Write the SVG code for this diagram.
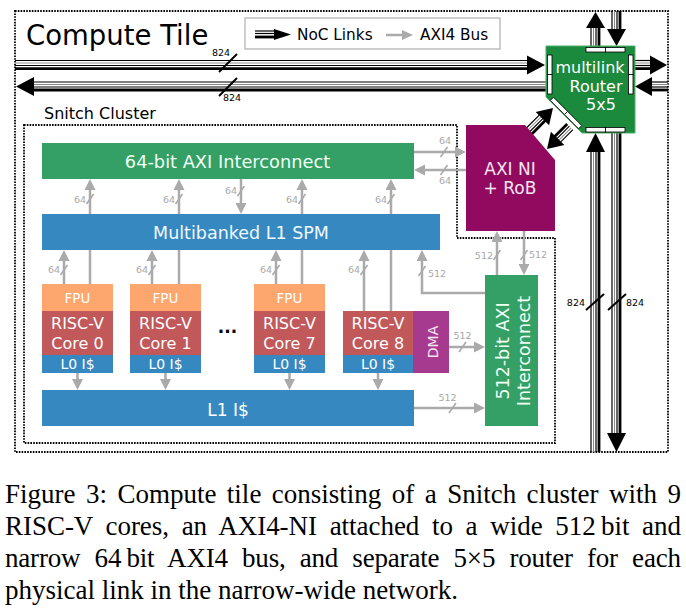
<svg xmlns="http://www.w3.org/2000/svg" width="686" height="612" viewBox="0 0 686 612">
<style>
.t{font-family:"DejaVu Sans",Verdana,sans-serif}
.w{fill:#ffffff}
.g{stroke:#aaaaaa;stroke-width:2.5;fill:none}
.gh{fill:#aaaaaa}
.sl{stroke:#aaaaaa;stroke-width:1.6}
.lb{font-family:"DejaVu Sans",Verdana,sans-serif;font-size:9.5px;fill:#a8a8a8}
.lk{font-family:"DejaVu Sans",Verdana,sans-serif;font-size:9.5px;fill:#000}
.k1{stroke:#000;stroke-width:1.2}
.kg{stroke:#888;stroke-width:1}
.k3{stroke:#000;stroke-width:2.8}
.kh{fill:#000}
.ks{stroke:#000;stroke-width:2}
.port{fill:#fff;stroke:#000;stroke-width:0.8}
.dot{fill:none;stroke:#000;stroke-width:1.8;stroke-dasharray:1.6 1.2}
.cap{font-family:"Liberation Serif","Times New Roman",serif;font-size:27px;fill:#000}
</style>
<rect x="0" y="0" width="686" height="612" fill="#fff"/>

<g id="tile-border"><rect class="dot" x="15" y="11" width="653" height="441"/></g>
<g id="cluster-border"><polygon class="dot" points="24,125 457,125 457,238 555,238 555,443 24,443"/></g>
<text class="t" x="26" y="45" font-size="27.5">Compute Tile</text>
<text class="t" x="44" y="119" font-size="16">Snitch Cluster</text>

<g id="legend">
<rect x="245" y="18" width="255" height="31" fill="#fff" stroke="#b0b0b0" stroke-width="1.2"/>
<line class="k1" x1="255" y1="31" x2="275" y2="31"/>
<line class="k1" x1="255" y1="33.5" x2="275" y2="33.5"/>
<line class="k3" x1="255" y1="37" x2="275" y2="37"/>
<polygon class="kh" points="291,34.5 274,29 274,40"/>
<text class="t" x="297" y="40" font-size="15.3">NoC Links</text>
<line class="g" x1="386" y1="35" x2="403" y2="35"/>
<polygon class="gh" points="413,35 402,30 402,40"/>
<text class="t" x="420" y="40" font-size="15.3">AXI4 Bus</text>
</g>

<g id="connectors">
<g id="noc-west-out">
<line class="k1" x1="15" y1="60.5" x2="528" y2="60.5"/>
<line class="kg" x1="15" y1="63" x2="528" y2="63"/>
<line class="k1" x1="15" y1="65.5" x2="528" y2="65.5"/>
<line class="k3" x1="15" y1="68.6" x2="528" y2="68.6"/>
<polygon class="kh" points="545,65 527,55.5 527,74.5"/>
<line class="ks" x1="219" y1="72" x2="237" y2="54"/>
<text class="lk" x="212" y="56">824</text>
</g>
<g id="noc-west-in">
<line class="k1" x1="33" y1="82" x2="546" y2="82"/>
<line class="kg" x1="33" y1="84.5" x2="546" y2="84.5"/>
<line class="k1" x1="33" y1="87" x2="546" y2="87"/>
<line class="k3" x1="33" y1="90" x2="546" y2="90"/>
<polygon class="kh" points="16,86.5 34,77 34,96"/>
<line class="ks" x1="219" y1="96" x2="237" y2="78"/>
<text class="lk" x="223" y="101">824</text>
</g>
<g id="noc-east-out">
<line class="k1" x1="635" y1="60.5" x2="651" y2="60.5"/>
<line class="kg" x1="635" y1="63" x2="651" y2="63"/>
<line class="k1" x1="635" y1="65.5" x2="651" y2="65.5"/>
<line class="k3" x1="635" y1="68.6" x2="651" y2="68.6"/>
<polygon class="kh" points="667,65 650,55.5 650,74.5"/>
</g>
<g id="noc-east-in">
<line class="k1" x1="651" y1="82" x2="668" y2="82"/>
<line class="kg" x1="651" y1="84.5" x2="668" y2="84.5"/>
<line class="k1" x1="651" y1="87" x2="668" y2="87"/>
<line class="k3" x1="651" y1="90" x2="668" y2="90"/>
<polygon class="kh" points="635,86.5 652,77 652,96"/>
</g>
<g id="noc-north-out">
<line class="k1" x1="591" y1="46" x2="591" y2="27"/>
<line class="kg" x1="593.5" y1="46" x2="593.5" y2="27"/>
<line class="k1" x1="596" y1="46" x2="596" y2="27"/>
<line class="k3" x1="599" y1="46" x2="599" y2="27"/>
<polygon class="kh" points="595.5,12 586,28 605,28"/>
</g>
<g id="noc-north-in">
<line class="k1" x1="612" y1="11" x2="612" y2="30"/>
<line class="kg" x1="614.5" y1="11" x2="614.5" y2="30"/>
<line class="k1" x1="617" y1="11" x2="617" y2="30"/>
<line class="k3" x1="620" y1="11" x2="620" y2="30"/>
<polygon class="kh" points="616.5,46 607,29 626,29"/>
</g>
<g id="noc-south-in">
<line class="k1" x1="591" y1="452" x2="591" y2="151"/>
<line class="kg" x1="593.5" y1="452" x2="593.5" y2="151"/>
<line class="k1" x1="596" y1="452" x2="596" y2="151"/>
<line class="k3" x1="599" y1="452" x2="599" y2="151"/>
<polygon class="kh" points="595.5,133 586,152 605,152"/>
<line class="ks" x1="586" y1="310" x2="604" y2="294"/>
<text class="lk" x="585" y="306" text-anchor="end">824</text>
</g>
<g id="noc-south-out">
<line class="k1" x1="612" y1="133" x2="612" y2="434"/>
<line class="kg" x1="614.5" y1="133" x2="614.5" y2="434"/>
<line class="k1" x1="617" y1="133" x2="617" y2="434"/>
<line class="k3" x1="620" y1="133" x2="620" y2="434"/>
<polygon class="kh" points="616.5,452 607,433 626,433"/>
<line class="ks" x1="608" y1="310" x2="626" y2="294"/>
<text class="lk" x="626" y="306">824</text>
</g>
<g id="noc-ni-out" transform="translate(553,108) rotate(-45)">
<line class="k1" x1="-34" y1="-4.7" x2="-14" y2="-4.7"/>
<line class="kg" x1="-34" y1="-2.2" x2="-14" y2="-2.2"/>
<line class="k1" x1="-34" y1="0.3" x2="-14" y2="0.3"/>
<line class="k3" x1="-34" y1="3.4" x2="-14" y2="3.4"/>
<polygon class="kh" points="0,0 -15,-9.5 -15,9.5"/>
</g>
<g id="noc-ni-in" transform="translate(547,149) rotate(135)">
<line class="k1" x1="-32" y1="-4.7" x2="-14" y2="-4.7"/>
<line class="kg" x1="-32" y1="-2.2" x2="-14" y2="-2.2"/>
<line class="k1" x1="-32" y1="0.3" x2="-14" y2="0.3"/>
<line class="k3" x1="-32" y1="3.4" x2="-14" y2="3.4"/>
<polygon class="kh" points="0,0 -15,-9.5 -15,9.5"/>
</g>

<line class="g" x1="90" y1="284" x2="90" y2="189"/><polygon class="gh" points="90,179 84.5,190 95.5,190"/>
<line class="sl" x1="86.5" y1="204" x2="93.5" y2="194"/><text class="lb" x="86" y="203" text-anchor="end">64</text>
<line class="g" x1="179" y1="284" x2="179" y2="189"/><polygon class="gh" points="179,179 173.5,190 184.5,190"/>
<line class="sl" x1="175.5" y1="204" x2="182.5" y2="194"/><text class="lb" x="175" y="203" text-anchor="end">64</text>
<line class="g" x1="241" y1="179" x2="241" y2="204"/><polygon class="gh" points="241,214 235.5,203 246.5,203"/>
<line class="sl" x1="237.5" y1="196" x2="244.5" y2="186"/><text class="lb" x="237" y="194" text-anchor="end">64</text>
<line class="g" x1="302" y1="284" x2="302" y2="189"/><polygon class="gh" points="302,179 296.5,190 307.5,190"/>
<line class="sl" x1="298.5" y1="204" x2="305.5" y2="194"/><text class="lb" x="298" y="203" text-anchor="end">64</text>
<line class="g" x1="391" y1="311" x2="391" y2="189"/><polygon class="gh" points="391,179 385.5,190 396.5,190"/>
<line class="sl" x1="387.5" y1="204" x2="394.5" y2="194"/><text class="lb" x="387" y="203" text-anchor="end">64</text>

<line class="g" x1="64" y1="284" x2="64" y2="260"/><polygon class="gh" points="64,250 58.5,261 69.5,261"/>
<line class="sl" x1="60.5" y1="275" x2="67.5" y2="265"/><text class="lb" x="60" y="273" text-anchor="end">64</text>
<line class="g" x1="152" y1="284" x2="152" y2="260"/><polygon class="gh" points="152,250 146.5,261 157.5,261"/>
<line class="sl" x1="148.5" y1="275" x2="155.5" y2="265"/><text class="lb" x="148" y="273" text-anchor="end">64</text>
<line class="g" x1="276" y1="284" x2="276" y2="260"/><polygon class="gh" points="276,250 270.5,261 281.5,261"/>
<line class="sl" x1="272.5" y1="275" x2="279.5" y2="265"/><text class="lb" x="272" y="273" text-anchor="end">64</text>
<line class="g" x1="364" y1="311" x2="364" y2="260"/><polygon class="gh" points="364,250 358.5,261 369.5,261"/>
<line class="sl" x1="360.5" y1="275" x2="367.5" y2="265"/><text class="lb" x="360" y="273" text-anchor="end">64</text>

<polyline class="g" points="486,293 422,293 422,260"/><polygon class="gh" points="422,250 416.5,261 427.5,261"/>
<line class="sl" x1="418.5" y1="276" x2="425.5" y2="266"/><text class="lb" x="428" y="277">512</text>

<line class="g" x1="414" y1="152" x2="456" y2="152"/><polygon class="gh" points="466,152 455,146.5 455,157.5"/>
<line class="sl" x1="440.5" y1="157" x2="447.5" y2="147"/><text class="lb" x="445" y="144" text-anchor="middle">64</text>
<line class="g" x1="466" y1="170" x2="424" y2="170"/><polygon class="gh" points="414,170 425,164.5 425,175.5"/>
<line class="sl" x1="440.5" y1="175" x2="447.5" y2="165"/><text class="lb" x="445" y="184" text-anchor="middle">64</text>

<line class="g" x1="497" y1="275" x2="497" y2="242"/><polygon class="gh" points="497,231 491.5,242 502.5,242"/>
<line class="sl" x1="493.5" y1="260" x2="500.5" y2="250"/><text class="lb" x="493" y="259" text-anchor="end">512</text>
<line class="g" x1="524" y1="231" x2="524" y2="265"/><polygon class="gh" points="524,275 518.5,264 529.5,264"/>
<line class="sl" x1="520.5" y1="260" x2="527.5" y2="250"/><text class="lb" x="529" y="258">512</text>

<line class="g" x1="449" y1="347" x2="475" y2="347"/><polygon class="gh" points="485,347 474,341.5 474,352.5"/>
<line class="sl" x1="459" y1="352" x2="466" y2="342"/><text class="lb" x="462.5" y="339" text-anchor="middle">512</text>
<line class="g" x1="414" y1="408" x2="475" y2="408"/><polygon class="gh" points="485,408 474,402.5 474,413.5"/>
<line class="sl" x1="449" y1="413" x2="456" y2="403"/><text class="lb" x="447.5" y="401" text-anchor="middle">512</text>

<line class="g" x1="77.5" y1="373" x2="77.5" y2="380"/><polygon class="gh" points="77.5,390 72,379 83,379"/>
<line class="g" x1="165.5" y1="373" x2="165.5" y2="380"/><polygon class="gh" points="165.5,390 160,379 171,379"/>
<line class="g" x1="289.5" y1="373" x2="289.5" y2="380"/><polygon class="gh" points="289.5,390 284,379 295,379"/>
<line class="g" x1="378" y1="373" x2="378" y2="380"/><polygon class="gh" points="378,390 372.5,379 383.5,379"/>
</g>

<g id="router">
<polygon points="546,46 635,46 635,133 582,133 546,97" fill="#1b8a3c" stroke="#4fae66" stroke-width="1"/>
<rect class="port" x="586" y="47.5" width="19.5" height="4.5"/><rect class="port" x="605.5" y="47.5" width="19.5" height="4.5"/>
<rect class="port" x="586" y="127.5" width="19.5" height="4.5"/><rect class="port" x="605.5" y="127.5" width="19.5" height="4.5"/>
<rect class="port" x="547.5" y="55" width="4.5" height="19.5"/><rect class="port" x="547.5" y="74.5" width="4.5" height="19.5"/>
<rect class="port" x="628.5" y="55" width="4.5" height="19.5"/><rect class="port" x="628.5" y="74.5" width="4.5" height="19.5"/>
<g transform="translate(566,113) rotate(45)"><rect class="port" x="-20" y="-2.25" width="20" height="4.5"/><rect class="port" x="0" y="-2.25" width="20" height="4.5"/></g>
<text class="t w" x="590" y="73" font-size="16" text-anchor="middle">multilink</text>
<text class="t w" x="596" y="91.5" font-size="16" text-anchor="middle">Router</text>
<text class="t w" x="601" y="110" font-size="16" text-anchor="middle">5x5</text>
</g>

<g id="axi-ni">
<polygon points="466,125 525,125 555,160 555,231 466,231" fill="#910a60"/>
<text class="t" x="510" y="175" font-size="17" fill="#f3e6f0" text-anchor="middle">AXI NI</text>
<text class="t" x="510" y="194" font-size="17" fill="#f3e6f0" text-anchor="middle">+ RoB</text>
</g>

<g id="axi64">
<rect x="42" y="143" width="372" height="36" fill="#34a065"/>
<text class="t" x="227.5" y="168" font-size="17.8" fill="#f0fff4" text-anchor="middle">64-bit AXI Interconnect</text>
</g>

<g id="spm">
<rect x="42" y="214" width="398" height="36" fill="#3689c0"/>
<text class="t" x="241" y="239" font-size="17.5" fill="#f0f8ff" text-anchor="middle">Multibanked L1 SPM</text>
</g>

<g id="core0">
<rect x="42" y="284" width="71" height="27" fill="#fda66e"/>
<rect x="42" y="311" width="71" height="44" fill="#c1585a"/>
<rect x="42" y="355" width="71" height="18" fill="#3689c0"/>
<text class="t w" x="77.5" y="303" font-size="13.5" text-anchor="middle">FPU</text>
<text class="t w" x="77.5" y="329" font-size="16" text-anchor="middle">RISC-V</text>
<text class="t w" x="77.5" y="349" font-size="16" text-anchor="middle">Core 0</text>
<text class="t w" x="77.5" y="369" font-size="14" text-anchor="middle">L0 I$</text>
</g>
<g id="core1">
<rect x="130" y="284" width="71" height="27" fill="#fda66e"/>
<rect x="130" y="311" width="71" height="44" fill="#c1585a"/>
<rect x="130" y="355" width="71" height="18" fill="#3689c0"/>
<text class="t w" x="165.5" y="303" font-size="13.5" text-anchor="middle">FPU</text>
<text class="t w" x="165.5" y="329" font-size="16" text-anchor="middle">RISC-V</text>
<text class="t w" x="165.5" y="349" font-size="16" text-anchor="middle">Core 1</text>
<text class="t w" x="165.5" y="369" font-size="14" text-anchor="middle">L0 I$</text>
</g>
<text class="t" x="227.5" y="333" font-size="17" font-weight="bold" text-anchor="middle">...</text>
<g id="core7">
<rect x="254" y="284" width="71" height="27" fill="#fda66e"/>
<rect x="254" y="311" width="71" height="44" fill="#c1585a"/>
<rect x="254" y="355" width="71" height="18" fill="#3689c0"/>
<text class="t w" x="289.5" y="303" font-size="13.5" text-anchor="middle">FPU</text>
<text class="t w" x="289.5" y="329" font-size="16" text-anchor="middle">RISC-V</text>
<text class="t w" x="289.5" y="349" font-size="16" text-anchor="middle">Core 7</text>
<text class="t w" x="289.5" y="369" font-size="14" text-anchor="middle">L0 I$</text>
</g>
<g id="core8">
<rect x="343" y="311" width="70" height="44" fill="#c1585a"/>
<rect x="343" y="355" width="70" height="18" fill="#3689c0"/>
<text class="t w" x="378" y="329" font-size="16" text-anchor="middle">RISC-V</text>
<text class="t w" x="378" y="349" font-size="16" text-anchor="middle">Core 8</text>
<text class="t w" x="378" y="369" font-size="14" text-anchor="middle">L0 I$</text>
</g>
<g id="dma">
<rect x="413" y="311" width="36" height="62" fill="#a63a8e"/>
<text class="t" transform="translate(437.5,342) rotate(-90)" font-size="14" fill="#f6e4f2" text-anchor="middle">DMA</text>
</g>

<g id="l1icache">
<rect x="42" y="390" width="372" height="36" fill="#3689c0"/>
<text class="t w" x="228" y="415.5" font-size="17" text-anchor="middle">L1 I$</text>
</g>

<g id="axi512">
<rect x="485" y="275" width="53" height="151" fill="#34a065"/>
<text class="t" transform="translate(508.5,351) rotate(-90)" font-size="17.5" fill="#f0fff4" text-anchor="middle">512-bit AXI</text>
<text class="t" transform="translate(530,351) rotate(-90)" font-size="17.5" fill="#f0fff4" text-anchor="middle">Interconnect</text>
</g>

<g id="caption">
<text class="cap" x="5" y="503" word-spacing="3.7" textLength="676" lengthAdjust="spacing">Figure 3: Compute tile consisting of a Snitch cluster with 9</text>
<text class="cap" x="5" y="535" word-spacing="6" textLength="676" lengthAdjust="spacing">RISC-V cores, an AXI4-NI attached to a wide 512&#8201;bit and</text>
<text class="cap" x="5" y="567" word-spacing="7.6" textLength="676" lengthAdjust="spacing">narrow 64&#8201;bit AXI4 bus, and separate 5×5 router for each</text>
<text class="cap" x="5" y="599">physical link in the narrow-wide network.</text>
</g>
</svg>
